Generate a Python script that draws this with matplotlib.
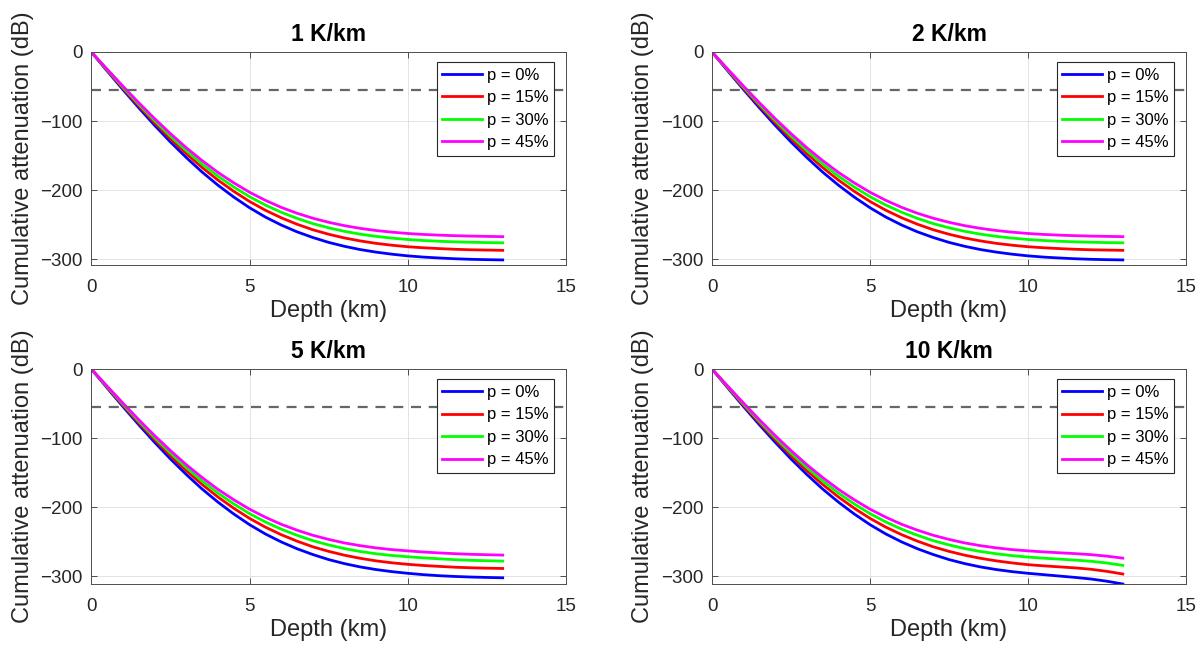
import matplotlib
matplotlib.use("Agg")
import matplotlib.pyplot as plt

# Figure settings
FIG_W, FIG_H = 1203, 654
FIG_DPI = 100

plt.rcParams["font.family"] = ["Liberation Sans", "DejaVu Sans"]
plt.rcParams["axes.unicode_minus"] = True

depth_km = [0, 0.5, 1, 1.5, 2, 2.5, 3, 3.5, 4, 4.5, 5, 5.5, 6, 6.5,
            7, 7.5, 8, 8.5, 9, 9.5, 10, 10.5, 11, 11.5, 12, 12.5, 13]

titles = ["1 K/km", "2 K/km", "5 K/km", "10 K/km"]
porosity_labels = ["p = 0%", "p = 15%", "p = 30%", "p = 45%"]
threshold_db = -55

# 1 K/km and 2 K/km
att_1k_p0 = [0, -27.4, -54.5, -80.8, -106.2, -130.3, -152.8, -173.8, -192.8, -210, -225.5, -239, -250.5, -260.4,
             -268.6, -275.7, -281.4, -286.1, -289.8, -292.8, -295.2, -297, -298.3, -299.4, -300.2, -300.7, -301.1]
att_1k_p15 = [0, -26.5, -52.6, -78, -102.4, -125.5, -147.2, -167.2, -185.4, -201.7, -216.4, -229.1, -240, -249.4,
              -257.4, -263.9, -269.3, -273.6, -277.1, -279.8, -282, -283.5, -284.7, -285.7, -286.4, -286.8, -287.2]
att_1k_p30 = [0, -25.7, -51, -75.7, -99.4, -121.8, -142.8, -162.1, -179.7, -195.4, -209.5, -221.6, -232, -240.9,
              -248.5, -254.6, -259.7, -263.8, -267, -269.5, -271.5, -273, -274.1, -274.9, -275.5, -276, -276.3]
att_1k_p45 = [0, -24.9, -49.5, -73.5, -96.5, -118.2, -138.6, -157.2, -174.3, -189.4, -203.1, -214.8, -225, -233.5,
              -240.7, -246.6, -251.5, -255.4, -258.5, -260.9, -262.8, -264.2, -265.2, -266, -266.6, -267, -267.4]

att_2k_p0 = [0, -27.4, -54.5, -80.8, -106.2, -130.3, -152.8, -173.8, -192.8, -210, -225.5, -239, -250.5, -260.4,
             -268.6, -275.7, -281.4, -286.1, -289.8, -292.8, -295.2, -297, -298.3, -299.4, -300.2, -300.7, -301.1]
att_2k_p15 = [0, -26.5, -52.6, -78, -102.4, -125.5, -147.2, -167.2, -185.4, -201.7, -216.4, -229.1, -240, -249.4,
              -257.4, -263.9, -269.3, -273.6, -277.1, -279.8, -282, -283.5, -284.7, -285.7, -286.4, -286.8, -287.2]
att_2k_p30 = [0, -25.7, -51, -75.7, -99.4, -121.8, -142.8, -162.1, -179.7, -195.4, -209.5, -221.6, -232, -240.9,
              -248.5, -254.6, -259.7, -263.8, -267, -269.5, -271.5, -273, -274.1, -274.9, -275.5, -276, -276.3]
att_2k_p45 = [0, -24.9, -49.5, -73.5, -96.5, -118.2, -138.6, -157.2, -174.3, -189.4, -203.1, -214.8, -225, -233.5,
              -240.7, -246.6, -251.5, -255.4, -258.5, -260.9, -262.8, -264.2, -265.2, -266, -266.6, -267, -267.4]

# 5 K/km
att_5k_p0 = [0, -27.4, -54.5, -80.8, -106.2, -130.3, -152.8, -173.8, -192.8, -210, -225.5, -239, -250.5, -260.4,
             -268.8, -276.1, -282, -286.8, -290.6, -293.6, -296, -298, -299.5, -300.6, -301.4, -302, -302.5]
att_5k_p15 = [0, -26.5, -52.6, -78, -102.4, -125.5, -147.2, -167.2, -185.4, -201.7, -216.4, -229.1, -240, -249.4,
              -257.6, -264.2, -269.8, -274.3, -278, -280.8, -283, -284.7, -286, -287.2, -288, -288.6, -289]
att_5k_p30 = [0, -25.7, -51, -75.7, -99.4, -121.8, -142.8, -162.1, -179.7, -195.4, -209.5, -221.6, -232, -240.9,
              -248.7, -254.9, -260.2, -264.4, -267.7, -270.2, -272, -273.7, -275, -276.3, -277.2, -277.8, -278.3]
att_5k_p45 = [0, -24.9, -49.5, -73.5, -96.5, -118.2, -138.6, -157.2, -174.3, -189.4, -203.1, -214.8, -225, -233.5,
              -240.9, -246.9, -252, -256, -259.2, -261.7, -263.5, -265.2, -266.5, -267.6, -268.5, -269.1, -269.6]

# 10 K/km
att_10k_p0 = [0, -27.4, -54.5, -80.8, -106.2, -130.3, -152.8, -173.8, -192.8, -210, -225.5, -239, -250.5, -260.4,
              -268.8, -276.1, -282, -286.8, -290.6, -293.6, -296, -298, -300, -302, -304.3, -307.5, -311.5]
att_10k_p15 = [0, -26.5, -52.6, -78, -102.4, -125.5, -147.2, -167.2, -185.4, -201.7, -216.4, -229.1, -240, -249.4,
               -257.6, -264.2, -269.8, -274.3, -278, -281, -283.5, -285.2, -286.7, -288.2, -290.2, -293.2, -297]
att_10k_p30 = [0, -25.7, -51, -75.7, -99.4, -121.8, -142.8, -162.1, -179.7, -195.4, -209.5, -221.6, -232, -240.9,
               -248.7, -254.9, -260.2, -264.4, -267.7, -270.4, -272.5, -274.1, -275.5, -276.9, -278.6, -281.1, -284.5]
att_10k_p45 = [0, -24.9, -49.5, -73.5, -96.5, -118.2, -138.6, -157.2, -174.3, -189.4, -203.1, -214.8, -225, -233.5,
               -240.9, -246.9, -252, -256, -259.2, -261.7, -263.5, -265, -266.3, -267.5, -269, -271.2, -274]

panels = [
    [att_1k_p0, att_1k_p15, att_1k_p30, att_1k_p45],
    [att_2k_p0, att_2k_p15, att_2k_p30, att_2k_p45],
    [att_5k_p0, att_5k_p15, att_5k_p30, att_5k_p45],
    [att_10k_p0, att_10k_p15, att_10k_p30, att_10k_p45],
]
y_bottoms = [-308, -308, -311.5, -311.5]
line_colors = ["#0000ff", "#ff0000", "#00ff00", "#ff00ff"]

# axes boxes in pixels: left, right, top, bottom
boxes = [
    (91.3, 566, 52, 264.7),
    (712, 1186, 52, 264.7),
    (91.3, 566, 369, 584),
    (712, 1186, 369, 584),
]

TEXT_COLOR = "#262626"


def _setup_axes(ax, title, ybottom):
    ax.set_xlim(0, 15)
    ax.set_ylim(ybottom, 0)
    ax.set_xticks([0, 5, 10, 15])
    ax.set_yticks([-300, -200, -100, 0])
    ax.grid(True, color="#dedede", linewidth=0.6)
    ax.set_axisbelow(True)
    ax.tick_params(direction="in", top=True, right=True, length=4, width=0.7,
                   colors="#4d4d4d", labelcolor=TEXT_COLOR, labelsize=13.5)
    ax.tick_params(axis="x", pad=10)
    ax.tick_params(axis="y", pad=6)
    for s in ax.spines.values():
        s.set_color("#4d4d4d")
        s.set_linewidth(0.7)
    ax.set_xlabel("Depth (km)", fontsize=17, color=TEXT_COLOR, labelpad=3)
    ax.set_ylabel("Cumulative attenuation (dB)", fontsize=17, color=TEXT_COLOR, labelpad=5)
    ax.set_title(title, fontsize=16.5, fontweight="bold", pad=8)


fig = plt.figure(figsize=(FIG_W / FIG_DPI, FIG_H / FIG_DPI), dpi=FIG_DPI)

for title, series, ybottom, (l, r, t, b) in zip(titles, panels, y_bottoms, boxes):
    ax = fig.add_axes([l / FIG_W, 1 - b / FIG_H, (r - l) / FIG_W, (b - t) / FIG_H])
    handles = []
    for values, color, label in zip(series, line_colors, porosity_labels):
        h, = ax.plot(depth_km, values, color=color, linewidth=2.0, label=label)
        handles.append(h)
    ax.axhline(threshold_db, color="#666666", linewidth=1.6, linestyle=(0, (4.5, 3.5)))
    _setup_axes(ax, title, ybottom)
    width, height = r - l, b - t
    leg = ax.legend(handles=handles, loc="upper right",
                    bbox_to_anchor=(1 - 12 / width, 1 - 10 / height),
                    borderaxespad=0, fontsize=12, handlelength=2.4, handletextpad=0.25,
                    labelspacing=0.45, borderpad=0.35, fancybox=False, framealpha=1)
    leg.get_frame().set_edgecolor("#262626")
    leg.get_frame().set_linewidth(0.8)

fig.savefig("out.png", dpi=FIG_DPI)
